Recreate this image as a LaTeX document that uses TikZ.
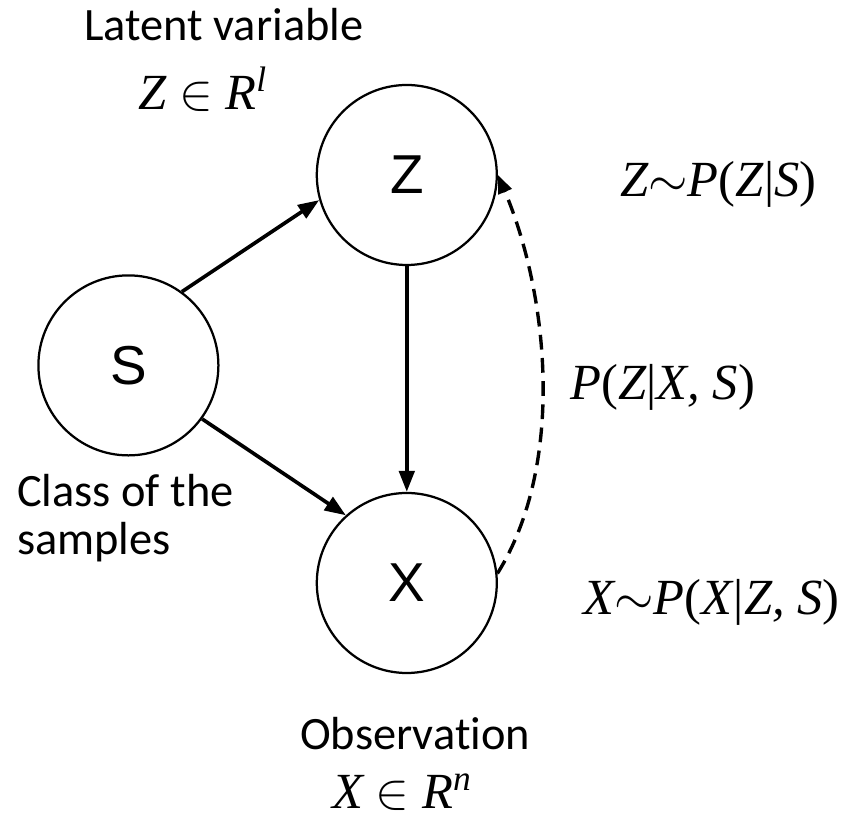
\documentclass[tikz,border=0pt]{standalone}
\usepackage{fix-cm}
\usepackage{fontspec}
\setmainfont{Carlito}[Ligatures=CommonOff]
\newfontfamily\varfont{Liberation Sans}
\newfontfamily\eqfont{Liberation Serif}
\usetikzlibrary{arrows.meta, positioning}
\newcommand{\Pof}[1]{P\textup{(}#1\textup{)}}

\begin{document}
\begin{tikzpicture}[
  var/.style={circle, draw, line width=1.6pt, minimum size=4.5cm, inner sep=0pt,
              font=\varfont\fontsize{39}{45}\selectfont},
  lbl/.style={inner sep=0pt, anchor=base west, font=\fontsize{33}{40}\selectfont},
  eq/.style={lbl, font=\eqfont\itshape\fontsize{36}{42}\selectfont},
  arrow/.style={-{Triangle[length=15pt, width=11pt]}, line width=2.6pt},
  back/.style={-{Triangle[length=13pt, width=10pt]}, line width=2.4pt,
               dash pattern=on 10.5pt off 6pt}
]
\useasboundingbox (0,0) rectangle (21.15,20.475);

\node[var] (Z) at (10.17,16.10) {Z};
\node[var] (S) at (3.21,11.34)  {S};
\node[var] (X) at (10.17,5.90)  {X};

\node[lbl] (latent) at (2.1,19.45)   {Latent variable};
\node[eq]  (zspace) at (3.45,17.725) {Z $\in$ R\textsuperscript{l}};
\node[eq]  (prior)  at (15.5,15.55)  {Z$\sim$\Pof{Z\textup{|}S}};
\node[eq]  (post)   at (14.25,10.475) {\Pof{Z\textup{|}X, S}};
\node[eq]  (lik)    at (14.575,5.1)  {X$\sim$\Pof{X\textup{|}Z, S}};
\node[lbl] (cls)    at (0.42,7.8)    {Class of the};
\node[lbl] (cls2)   at ([yshift=-1.2cm]cls.base west) {samples};
\node[lbl] (obs)    at (7.5,1.725)   {Observation};
\node[eq]  (xspace) at (8.3,0.25)    {X $\in$ R\textsuperscript{n}};

\draw[arrow] (S.54) -- (Z.196);
\draw[arrow] (S.-36) -- (X.132);
\draw[arrow] (Z) -- (X);
\draw[back] (X.6) to[out=58, in=-67, looseness=0.83] (Z.0);
\end{tikzpicture}
\end{document}
